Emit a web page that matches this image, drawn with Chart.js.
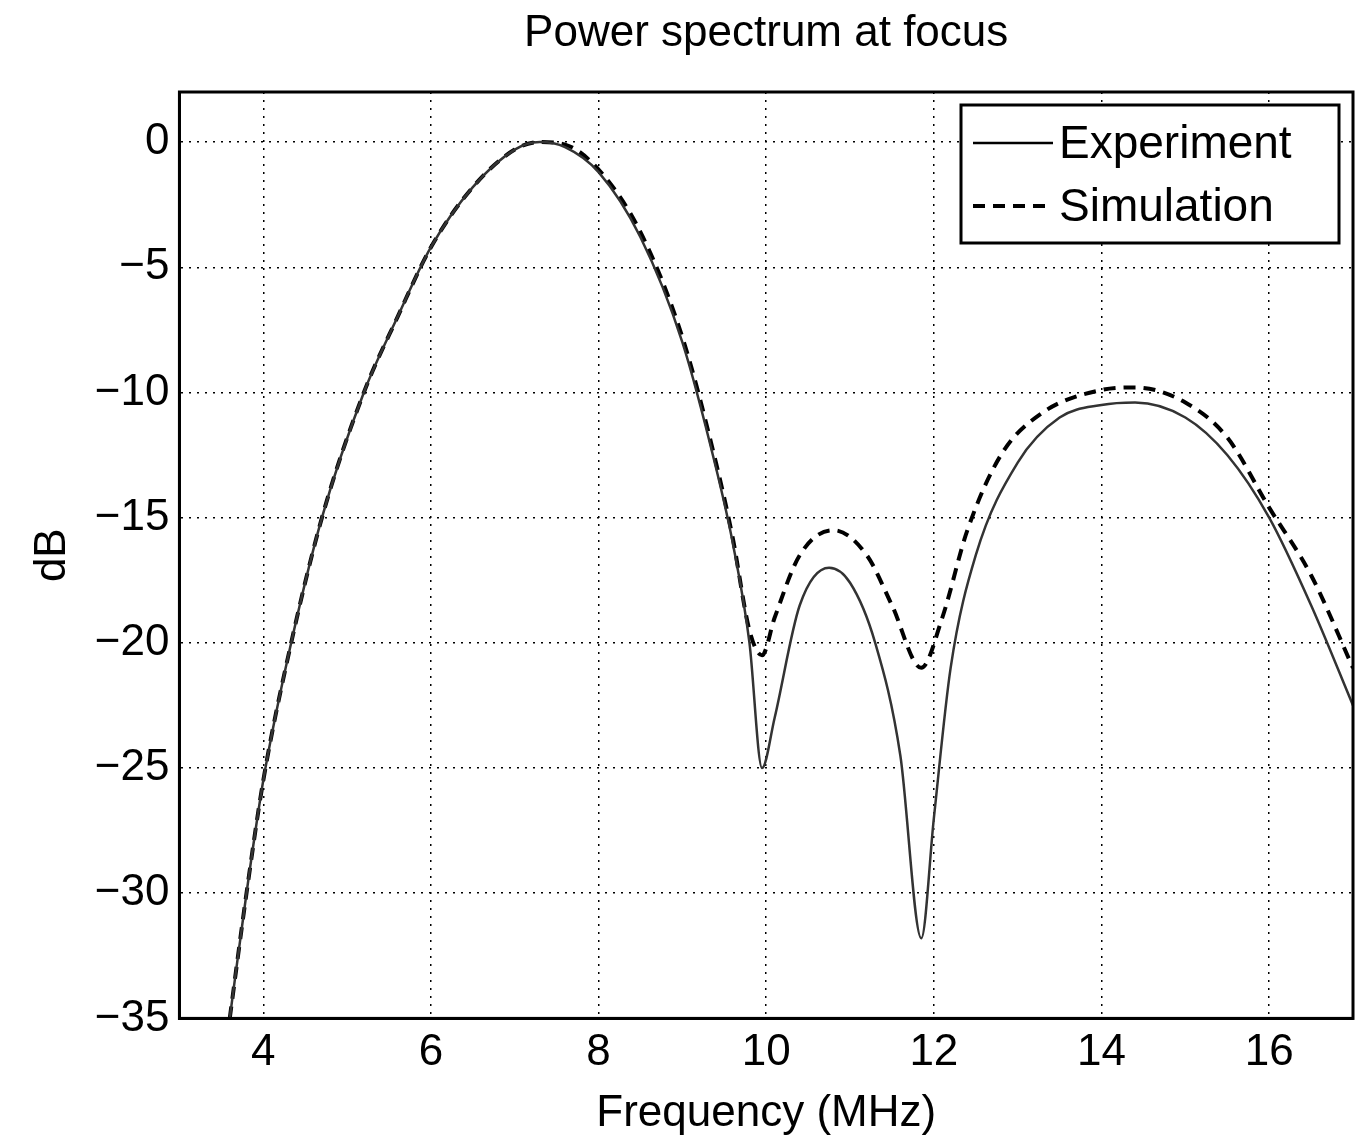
<!DOCTYPE html>
<html><head><meta charset="utf-8">
<script src="https://cdn.jsdelivr.net/npm/chart.js@4/dist/chart.umd.min.js"></script>
<style>body{margin:0;background:#fff}#wrap{width:1361px;height:1140px}</style>
</head><body><div id="wrap"><canvas id="c"></canvas></div>
<script>
// Experiment curve
const expX = [3.6,3.8,4.0,4.3,4.7,5.2,5.6,6.0,6.5,7.0,7.3,7.6,8.0,8.5,9.0,9.4,9.6,9.8,9.95,10.1,10.4,10.75,11.0,11.3,11.6,11.85,12.0,12.2,12.5,13.0,13.5,14.0,14.4,15.0,15.5,16.0,16.5,17.0];
const expY = [-35,-30,-25.5,-20.5,-15,-10,-7,-4.2,-1.8,-0.3,0,-0.2,-1.2,-3.8,-8,-13,-16,-20,-25,-23,-18.5,-17,-17.6,-20,-24.5,-31.8,-27,-21,-16.5,-12.8,-11,-10.5,-10.4,-11,-12.5,-15,-18.5,-22.5];
// Simulation curve
const simX = [3.6,3.8,4.0,4.3,4.7,5.2,5.6,6.0,6.5,7.0,7.3,7.6,8.0,8.5,9.0,9.4,9.6,9.8,9.95,10.1,10.4,10.8,11.2,11.5,11.85,12.1,12.4,12.8,13.3,14.0,14.4,15.0,15.5,16.0,16.5,17.0];
const simY = [-35,-30,-25.5,-20.5,-15,-10,-7,-4.2,-1.8,-0.3,0,-0.1,-1.1,-3.6,-7.8,-12.8,-15.8,-19.5,-20.5,-19,-16.5,-15.5,-16.5,-18.5,-21,-19,-15.5,-12.5,-10.8,-9.9,-9.8,-10.4,-11.8,-14.6,-17.3,-21];
const xTicks = [4,6,8,10,12,14,16];
const yTicks = [0,-5,-10,-15,-20,-25,-30,-35];

const FONT = 'Arial, "Liberation Sans", sans-serif';
const pts = (xs, ys) => xs.map((x, i) => ({x, y: ys[i]}));

// legend box + title + frame
const extras = {
  id: 'extras',
  afterDraw(chart) {
    const ctx = chart.ctx, a = chart.chartArea;
    ctx.save();
    ctx.strokeStyle = '#000'; ctx.lineWidth = 3; ctx.setLineDash([]);
    ctx.strokeRect(a.left, a.top, a.right - a.left, a.bottom - a.top);
    ctx.font = '44px ' + FONT; ctx.fillStyle = '#000';
    ctx.textAlign = 'center'; ctx.textBaseline = 'middle';
    ctx.fillText('Power spectrum at focus', (a.left + a.right) / 2, 34);
    ctx.textAlign = 'left';
    const w = 378, h = 138, x0 = a.right - w - 14, y0 = a.top + 13;
    ctx.fillStyle = '#fff'; ctx.fillRect(x0, y0, w, h);
    ctx.strokeRect(x0, y0, w, h);
    ctx.fillStyle = '#000'; ctx.font = '46px ' + FONT;
    ctx.lineWidth = 2.5;
    ctx.beginPath(); ctx.moveTo(x0 + 12, y0 + 38); ctx.lineTo(x0 + 92, y0 + 38); ctx.stroke();
    ctx.fillText('Experiment', x0 + 98, y0 + 40);
    ctx.lineWidth = 4; ctx.setLineDash([12, 8]);
    ctx.beginPath(); ctx.moveTo(x0 + 12, y0 + 101); ctx.lineTo(x0 + 92, y0 + 101); ctx.stroke();
    ctx.fillText('Simulation', x0 + 98, y0 + 103);
    ctx.restore();
  }
};

new Chart(document.getElementById('c'), {
  type: 'scatter',
  data: {
    datasets: [
      {label: 'Experiment', data: pts(expX, expY), showLine: true, borderColor: '#333', borderWidth: 2.5, pointRadius: 0, cubicInterpolationMode: 'monotone'},
      {label: 'Simulation', data: pts(simX, simY), showLine: true, borderColor: '#000', borderWidth: 4, borderDash: [12, 8], pointRadius: 0, cubicInterpolationMode: 'monotone'}
    ]
  },
  options: {
    responsive: true, maintainAspectRatio: false, animation: false,
    layout: {padding: {left: 20, right: 8, top: 92, bottom: 0}},
    plugins: {legend: {display: false}, tooltip: {enabled: false}},
    scales: {
      x: {
        type: 'linear', min: 3, max: 17,
        afterBuildTicks: s => { s.ticks = xTicks.map(v => ({value: v})); },
        grid: {color: '#000', lineWidth: 1.5, tickLength: 0},
        border: {display: true, color: '#000', width: 3, dash: [2, 6]},
        ticks: {color: '#000', font: {size: 44, family: FONT}, padding: 8, maxRotation: 0},
        title: {display: true, text: 'Frequency (MHz)', color: '#000', font: {size: 44, family: FONT}, padding: 0}
      },
      y: {
        min: -35, max: 2,
        afterBuildTicks: s => { s.ticks = yTicks.map(v => ({value: v})); },
        grid: {color: '#000', lineWidth: 1.5, tickLength: 0},
        border: {display: true, color: '#000', width: 3, dash: [2, 6]},
        ticks: {color: '#000', font: {size: 44, family: FONT}, padding: 10, callback: v => String(v).replace('-', '\u2212')},
        title: {display: true, text: 'dB', color: '#000', font: {size: 44, family: FONT}, padding: 6}
      }
    }
  },
  plugins: [extras]
});
</script></body></html>
